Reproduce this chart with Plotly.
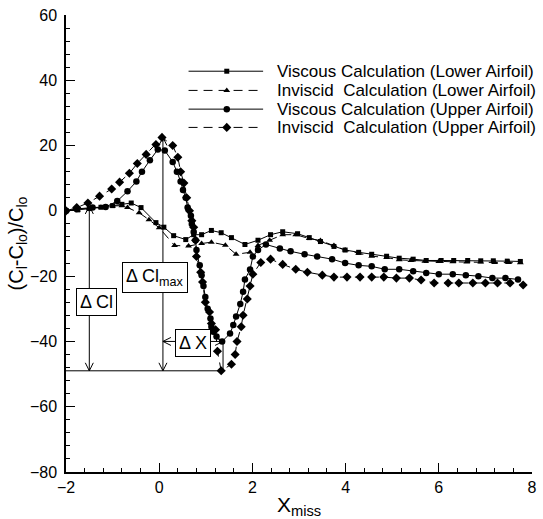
import numpy as np
import plotly.graph_objects as go

# ---------------- data ----------------
visc_lower_x = [-2.0, -1.75, -1.5, -1.25, -1.0, -0.8, -0.6, -0.39, -0.07, 0.10, 0.31, 0.57, 0.74, 0.91,
                1.12, 1.33, 1.55, 1.84, 2.12, 2.39, 2.65, 2.97, 3.22, 3.46, 3.75, 3.99, 4.28, 4.56,
                4.88, 5.15, 5.45, 5.73, 6.05, 6.32, 6.62, 6.9, 7.17, 7.47, 7.75]
visc_lower_y = [0.0, 0.3, 0.7, 1.1, 1.6, 2.0, 2.4, 1.0, -3.6, -5.0, -7.6, -8.8, -7.3, -7.3,
                -6.0, -6.7, -8.2, -10.3, -9.0, -7.3, -6.4, -7.0, -8.2, -9.4, -10.9, -12.0, -12.7, -13.3,
                -13.9, -14.5, -14.8, -15.2, -15.2, -15.2, -15.2, -15.3, -15.3, -15.4, -15.5]

invisc_lower_x = [-2.0, -1.75, -1.5, -1.25, -1.0, -0.8, -0.68, -0.43, -0.22, 0.0, 0.33, 0.63, 0.91, 1.12,
                  1.42, 1.65, 1.95, 2.12, 2.37, 2.65, 2.93, 3.22, 3.46, 3.75, 3.99, 4.28, 4.56,
                  4.88, 5.15, 5.4, 5.7, 6.0, 6.3, 6.6, 6.9, 7.2, 7.5, 7.75]
invisc_lower_y = [0.0, 0.3, 0.7, 1.1, 1.5, 1.6, 1.0, -0.6, -2.7, -5.2, -10.6, -10.8, -10.0, -9.6,
                  -10.5, -13.3, -12.7, -10.6, -9.0, -7.3, -7.3, -8.5, -9.1, -10.6, -12.0, -13.0, -13.9,
                  -14.3, -15.0, -15.2, -15.4, -15.5, -15.6, -15.7, -15.7, -15.8, -15.8, -15.9]

visc_upper_x = [-2.0, -1.77, -1.43, -1.15, -0.9, -0.68, -0.49, -0.37, -0.2, -0.03, 0.12, 0.29, 0.38,
                0.46, 0.51, 0.57, 0.61, 0.68, 0.70, 0.74, 0.78, 0.80, 0.87, 0.91, 0.95, 0.99, 1.04,
                1.10, 1.12, 1.16, 1.23, 1.35, 1.52, 1.59, 1.65, 1.74, 1.80, 1.84, 1.95, 2.01, 2.12,
                2.29, 2.59, 2.82, 3.12, 3.39, 3.71, 3.99, 4.28, 4.56, 4.84, 5.15, 5.45, 5.73, 6.0,
                6.3, 6.58, 6.85, 7.15, 7.43, 7.70]
visc_upper_y = [0.0, 0.6, 1.0, 1.2, 3.0, 6.0, 9.0, 12.0, 15.5, 18.8, 18.5, 15.0, 12.0,
                9.0, 6.4, 4.0, 1.0, -1.5, -4.0, -6.5, -9.0, -12.0, -16.7, -19.7, -23.0, -26.4, -30.0,
                -33.0, -35.5, -37.0, -38.5, -40.0, -37.6, -35.0, -32.4, -28.5, -24.8, -21.0, -18.0, -14.0, -12.0,
                -10.3, -11.5, -12.4, -13.3, -14.0, -14.8, -16.0, -16.7, -17.0, -17.9, -17.9, -18.5, -19.0, -19.4,
                -19.4, -19.7, -20.0, -20.6, -20.6, -21.0]

invisc_upper_x = [-2.0, -1.77, -1.53, -1.28, -1.02, -0.85, -0.64, -0.47, -0.28, -0.07, 0.06, 0.29, 0.40,
                  0.46, 0.53, 0.59, 0.65, 0.70, 0.74, 0.78, 0.80, 0.89, 0.93, 0.99, 1.08, 1.12, 1.21,
                  1.25, 1.33, 1.55, 1.63, 1.67, 1.76, 1.80, 1.89, 1.95, 2.01, 2.18, 2.39, 2.65, 2.93,
                  3.18, 3.50, 3.75, 4.03, 4.31, 4.56, 4.82, 5.09, 5.37, 5.62, 5.90, 6.20, 6.43, 6.73,
                  7.0, 7.26, 7.53, 7.81]
invisc_upper_y = [0.0, 1.0, 2.4, 4.5, 6.7, 8.8, 11.5, 14.5, 17.3, 20.3, 22.5, 20.0, 16.4,
                  12.0, 8.5, 4.0, 0.0, -3.0, -5.0, -9.0, -14.0, -18.8, -21.8, -28.0, -31.0, -34.5, -36.4,
                  -43.0, -49.0, -47.0, -44.0, -40.0, -35.5, -32.0, -27.0, -23.0, -19.4, -15.8, -14.8, -16.4, -17.9,
                  -18.8, -19.7, -20.3, -20.3, -20.3, -20.3, -20.3, -20.6, -20.6, -21.2, -22.1, -22.1, -22.1, -22.1,
                  -22.1, -22.1, -22.1, -22.7]

series_names = ["Viscous Calculation (Lower Airfoil)",
                "Inviscid  Calculation (Lower Airfoil)",
                "Viscous Calculation (Upper Airfoil)",
                "Inviscid  Calculation (Upper Airfoil)"]

x_range = [-2, 8]
y_range = [-80, 60]
dcl_x = -1.5      # location of the Delta Cl arrow
dcl_top = 1.5     # top of the Delta Cl arrow

# ---------------- styling ----------------
FONT = "Liberation Sans, Arial, Helvetica, sans-serif"
DASH = "9px,6px"
styles = [
    dict(dash="solid", symbol="square", size=5),
    dict(dash=DASH, symbol="triangle-up", size=6),
    dict(dash="solid", symbol="circle", size=6.5),
    dict(dash=DASH, symbol="diamond", size=7),
]
all_x = [visc_lower_x, invisc_lower_x, visc_upper_x, invisc_upper_x]
all_y = [visc_lower_y, invisc_lower_y, visc_upper_y, invisc_upper_y]

fig = go.Figure()
for xs, ys, st, nm in zip(all_x, all_y, styles, series_names):
    fig.add_trace(go.Scatter(
        x=xs, y=ys, mode="lines+markers", name=nm, showlegend=False,
        line=dict(color="black", width=1, dash=st["dash"]),
        marker=dict(color="black", symbol=st["symbol"], size=st["size"], line=dict(width=0)),
    ))

# ---------------- custom legend (overlay axes 0..1) ----------------
leg_rows = [0.877, 0.835, 0.794, 0.754]
leg_x0, leg_x1, leg_xm, leg_tx = 0.263, 0.423, 0.345, 0.448
for row, st, nm in zip(leg_rows, styles, series_names):
    fig.add_trace(go.Scatter(
        x=[leg_x0, leg_x1], y=[row, row], mode="lines", xaxis="x2", yaxis="y2",
        showlegend=False, hoverinfo="skip",
        line=dict(color="black", width=1, dash=st["dash"])))
    fig.add_trace(go.Scatter(
        x=[leg_xm], y=[row], mode="markers", xaxis="x2", yaxis="y2",
        showlegend=False, hoverinfo="skip",
        marker=dict(color="black", symbol=st["symbol"], size=st["size"], line=dict(width=0))))
    fig.add_annotation(x=leg_tx, y=row, xref="paper", yref="paper", text=nm,
                       showarrow=False, xanchor="left", yanchor="middle",
                       font=dict(family=FONT, size=17, color="black"))

# ---------------- Delta annotations (derived from the data) ----------------
iu_x = np.array(invisc_upper_x); iu_y = np.array(invisc_upper_y)
vu_x = np.array(visc_upper_x); vu_y = np.array(visc_upper_y)
y_min = float(iu_y.min())
x_peak = float(iu_x[iu_y.argmax()]) + 0.02
y_peak = float(iu_y.max())
x_vmin = float(vu_x[vu_y.argmin()]) + 0.02
y_vmin = float(vu_y.min())

LINE = dict(color="black", width=1)

def seg(xa, ya, xb, yb):
    fig.add_shape(type="line", x0=xa, y0=ya, x1=xb, y1=yb, xref="x", yref="y", line=LINE)

def head(x, y, direction):
    # open "V" arrow head, size in pixels, tip at (x, y)
    L, W = 8, 4
    paths = {
        "up":    f"M{-W},{-L} L0,0 L{W},{-L}",
        "down":  f"M{-W},{L} L0,0 L{W},{L}",
        "left":  f"M{L},{-W} L0,0 L{L},{W}",
        "right": f"M{-L},{-W} L0,0 L{-L},{W}",
    }
    fig.add_shape(type="path", xsizemode="pixel", ysizemode="pixel", xanchor=x, yanchor=y,
                  xref="x", yref="y", path=paths[direction], line=LINE)

# baseline at the minimum and the vertical closing line
seg(x_range[0], y_min, x_vmin, y_min)
seg(x_vmin, y_vmin, x_vmin, y_min)
# Delta Cl
seg(dcl_x, dcl_top, dcl_x, y_min); head(dcl_x, dcl_top, "up"); head(dcl_x, y_min, "down")
# Delta Cl max
seg(x_peak, y_peak, x_peak, y_min); head(x_peak, y_peak, "up"); head(x_peak, y_min, "down")
# Delta X
seg(x_peak, y_vmin, x_vmin, y_vmin); head(x_peak, y_vmin, "left"); head(x_vmin, y_vmin, "right")

box = dict(showarrow=False, bordercolor="black", borderwidth=1, borderpad=3, bgcolor="white",
           font=dict(family=FONT, size=18, color="black"), xref="x", yref="y")
fig.add_annotation(x=-1.34, y=-28, text="Δ Cl", **box)
fig.add_annotation(x=-0.09, y=-20.5, text="Δ Cl<sub>max</sub>", **box)
fig.add_annotation(x=0.72, y=-40.6, text="Δ X", **box)

axis_common = dict(
    showline=True, linecolor="black", linewidth=1.5, showgrid=False, zeroline=False,
    ticks="inside", ticklen=9, tickwidth=1, tickcolor="black",
    tickfont=dict(family=FONT, size=16, color="black"),
)
fig.update_layout(
    width=543, height=519,
    margin=dict(l=66, r=6, t=15, b=42),
    paper_bgcolor="white", plot_bgcolor="white",
    showlegend=False,
    xaxis=dict(range=x_range, tick0=-2, dtick=2,
               minor=dict(ticks="inside", ticklen=4, tick0=-2, dtick=0.4, tickcolor="black"),
               title=dict(text="X<sub>miss</sub>", font=dict(family=FONT, size=21, color="black"),
                          standoff=2),
               **axis_common),
    yaxis=dict(range=y_range, tick0=-80, dtick=20, ticklabelstandoff=4,
               minor=dict(ticks="inside", ticklen=4, tick0=-80, dtick=4, tickcolor="black"),
               title=dict(text="(C<sub>l</sub>-C<sub>lo</sub>)/C<sub>lo</sub>",
                          font=dict(family=FONT, size=20, color="black"), standoff=0),
               **axis_common),
    xaxis2=dict(overlaying="x", range=[0, 1], visible=False),
    yaxis2=dict(overlaying="y", range=[0, 1], visible=False),
)

fig.write_html("out.html")
